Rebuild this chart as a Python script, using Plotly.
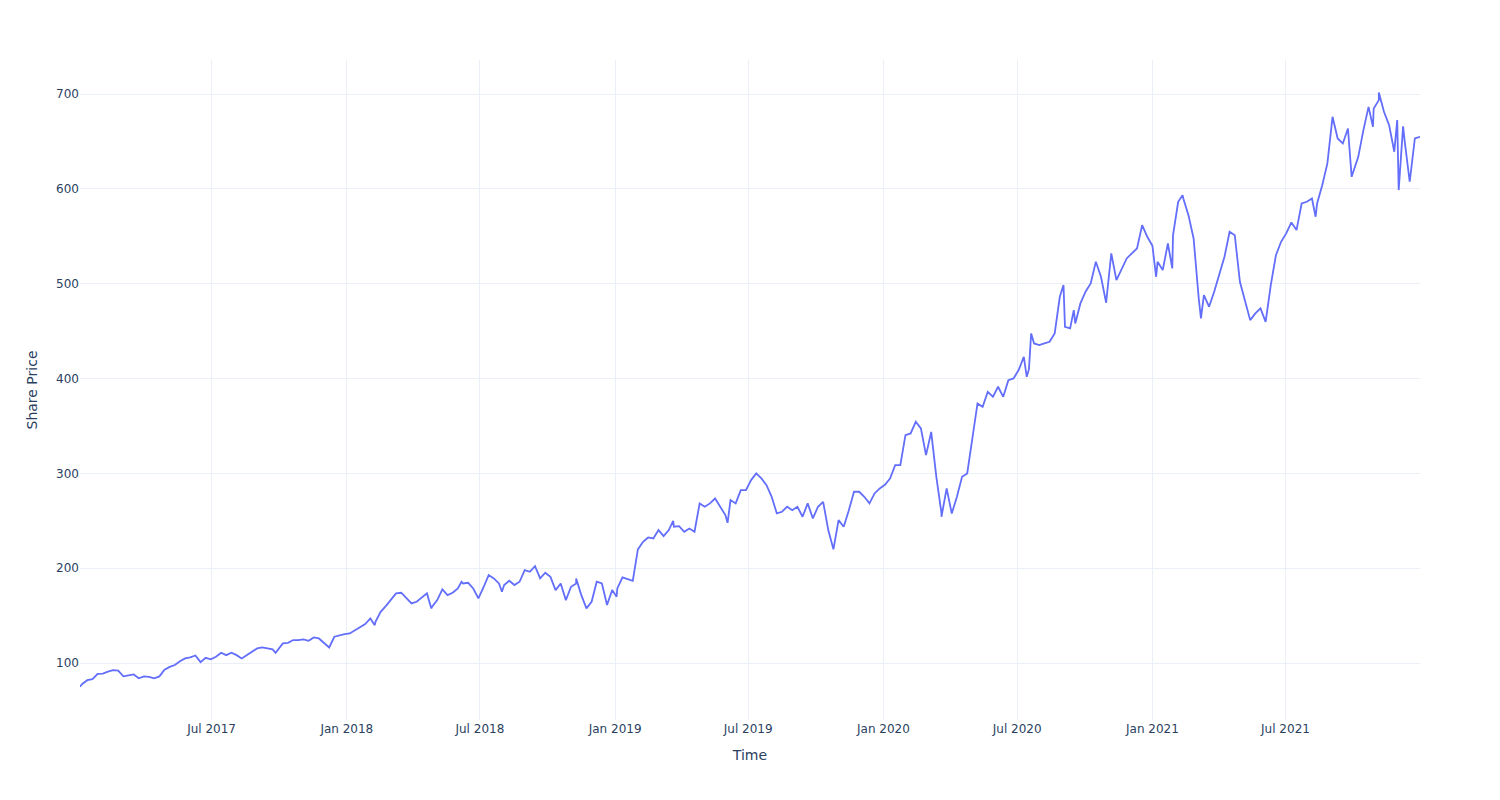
import pandas as pd
import plotly.graph_objects as go

# Weekly readings (every 7 days from start_date)
start_date = "2017-01-06"

share_price = [
    # Jan 2017 - Jul 2017
    78, 82, 83, 88.6, 89, 91, 92.5, 92, 86, 87, 88, 84, 86, 85.5, 84, 86,
    93, 96, 98, 102, 105, 106, 108, 101, 105.6, 104,
    # Jul 2017 - Jan 2018
    106.7, 110.9, 108.4, 110.9, 108.4, 104.9, 108.4, 111.9, 115.5, 116.5,
    115.5, 114.4, 113.7, 120.7, 121.4, 124.3, 124.3, 125, 123.5, 127.1,
    126, 121.4, 116.5, 127.8, 129.5, 130.6,
    # Jan 2018 - Jul 2018
    131.3, 134.8, 137.6, 141.1, 147.1, 143.6, 154.1, 160.1, 166.4, 173.5,
    174.2, 168.2, 162.9, 164.7, 169.2, 173.5, 159.4, 166.4, 177.7, 171.7,
    174.2, 178.7, 184, 184.7, 178.7, 168.2, 180,
    # Jul 2018 - Jan 2019
    192.8, 189.3, 184, 182.3, 186.8, 182.3, 185.8, 198.1, 196.3, 202.3,
    189.3, 195.3, 191, 177, 184, 166.4, 180.5, 184, 171.7, 157.7,
    164.7, 185.8, 184, 161.2, 177, 178.7,
    # Jan 2019 - Jul 2019
    190.3, 188.2, 186.8, 219.9, 227.9, 232.5, 231.5, 240.3, 233.9, 240.3,
    243.8, 244.5, 238.5, 242, 238.5, 268.4, 264.9, 268.4, 273.6, 264.9,
    256.1, 271.9, 268.4, 282.4, 282.4, 293,
    # Jul 2019 - Jan 2020
    300, 294.7, 287.7, 275.4, 257.8, 259.6, 264.9, 261.3, 264.9, 254.3,
    268.4, 252.6, 264.9, 270.1, 240.3, 220, 250.8, 243.8, 261.3, 280.7,
    280.7, 275.4, 268.4, 278.9, 284.2, 288,
    # Jan 2020 - Jul 2020
    294.7, 308.8, 308.8, 340.4, 342.2, 354.5, 347.5, 319.3, 343.9, 296.5,
    258, 284.2, 257.8, 275.4, 296.5, 300, 338.7, 373.8, 370.3, 386.1,
    380.8, 391.4, 380.8, 398.4, 400.2, 409,
    # Jul 2020 - Jan 2021
    423, 410, 437.1, 435.3, 437.1, 438.8, 447.7, 486.3, 454.6, 452.9,
    458.2, 479.3, 491.6, 500.4, 523.2, 507.4, 480, 532, 503.9, 516.2,
    526.7, 532, 537.3, 561.9, 549.6, 540,
    # Jan 2021 - Jul 2021
    523.2, 514.4, 542.5, 551.3, 586.5, 590, 572.4, 547.8, 484.5, 488,
    475.8, 491.6, 509.1, 528.5, 554.8, 551.3, 502.1, 481, 461.7, 468.7,
    474, 459.9, 498.6, 530.2, 544.3, 553.1,
    # Jul 2021 - Dec 2021
    564.7, 556.6, 584.7, 586.5, 590, 584.7, 604, 626.9, 676.1, 653.3,
    648, 663.8, 618.1, 633.9, 662, 686.6, 684.9, 693.7, 681.4, 667.3,
    639.2, 611.1, 651.5, 607.6, 653.3, 655,
]

# Extra readings at visible spikes / dips between the weekly points
spike_dates = [
    "2017-01-03", "2017-09-26", "2018-02-08", "2018-04-26", "2018-06-06",
    "2018-07-31", "2018-11-09", "2019-01-03", "2019-03-21", "2019-06-03",
    "2020-03-20", "2020-07-14", "2020-07-20", "2020-09-02", "2020-09-16",
    "2021-01-06", "2021-01-28", "2021-02-11", "2021-03-08", "2021-08-11",
    "2021-09-29", "2021-10-28", "2021-11-05", "2021-11-30", "2021-12-02",
    "2021-12-08",
]
spike_values = [
    75, 110.9, 140, 157.6, 185.8,
    175.2, 189.3, 170, 250.1, 248,
    254.3, 401.9, 447.7, 498.8, 472.2,
    507.4, 516.2, 593.5, 463.5, 570.7,
    612.8, 665.6, 701.8, 672.6, 598.8,
    666,
]

weekly_dates = pd.date_range(start_date, periods=len(share_price), freq="7D")
df = pd.concat(
    [
        pd.DataFrame({"date": weekly_dates, "price": share_price}),
        pd.DataFrame({"date": pd.to_datetime(spike_dates), "price": spike_values}),
    ]
).sort_values("date")

fig = go.Figure(
    go.Scatter(
        x=df["date"],
        y=df["price"],
        mode="lines",
        line=dict(color="#636EFA", width=1.8),
        showlegend=False,
    )
)

fig.update_layout(
    template="plotly_white",
    width=1500,
    height=800,
    margin=dict(l=80, r=80, t=60, b=80),
    font=dict(family="DejaVu Sans", color="#2a3f5f"),
    xaxis=dict(
        title=dict(text="Time", font=dict(size=14)),
        range=["2017-01-03", "2021-12-31"],
        tickfont=dict(size=12),
    ),
    yaxis=dict(
        title=dict(text="Share Price", font=dict(size=14)),
        range=[40, 736],
        tickfont=dict(size=12),
    ),
)

fig.write_html("out.html")
